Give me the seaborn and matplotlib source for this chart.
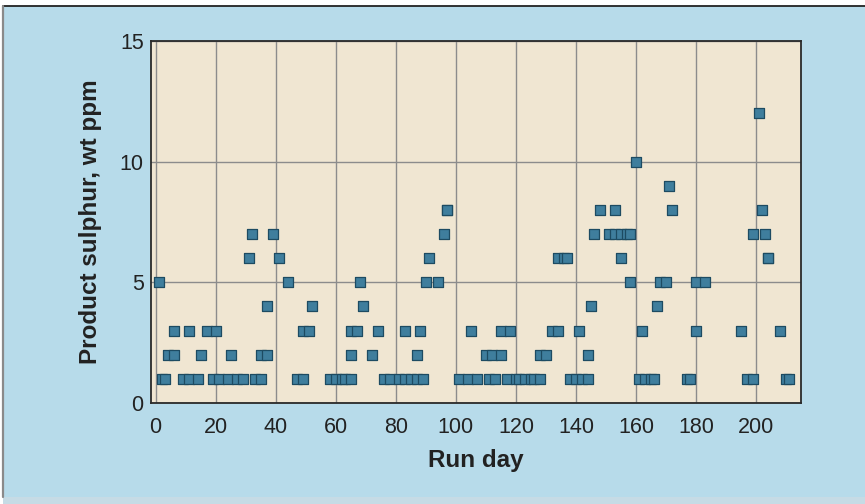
import matplotlib
matplotlib.use("Agg")
import matplotlib.pyplot as plt
import seaborn as sns
import pandas as pd
from matplotlib.patches import Rectangle
from matplotlib.lines import Line2D

# Daily product sulphur readings over the run
run_day = [1, 2, 3, 4, 6, 6, 9, 11, 11, 14, 15, 17, 19, 20, 21, 24, 25, 27, 29, 31,
           32, 33, 35, 35, 37, 37, 39, 41, 44, 47, 49, 49, 51, 52, 58, 60, 62, 63, 65, 65,
           65, 67, 68, 69, 72, 74, 76, 78, 81, 83, 83, 85, 87, 87, 88, 89, 90, 91, 94, 96,
           97, 97, 101, 104, 105, 107, 110, 111, 112, 113, 115, 115, 117, 118, 120, 121, 123, 125, 126, 128,
           128, 130, 132, 134, 134, 136, 137, 138, 140, 141, 142, 144, 144, 145, 146, 148, 151, 153, 153, 155,
           155, 157, 158, 158, 160, 161, 162, 163, 165, 166, 167, 168, 170, 171, 172, 177, 178, 180, 180, 183,
           195, 197, 199, 199, 201, 202, 203, 204, 204, 208, 210, 211]
sulphur_ppm = [5, 1, 1, 2, 2, 3, 1, 1, 3, 1, 2, 3, 1, 3, 1, 1, 2, 1, 1, 6,
               7, 1, 1, 2, 2, 4, 7, 6, 5, 1, 1, 3, 3, 4, 1, 1, 1, 1, 1, 2,
               3, 3, 5, 4, 2, 3, 1, 1, 1, 1, 3, 1, 1, 2, 3, 1, 5, 6, 5, 7,
               8, 8, 1, 1, 3, 1, 2, 1, 2, 1, 2, 3, 1, 3, 1, 1, 1, 1, 1, 1,
               2, 2, 3, 3, 6, 6, 6, 1, 1, 3, 1, 1, 2, 4, 7, 8, 7, 7, 8, 6,
               7, 7, 5, 7, 10, 1, 3, 1, 1, 1, 4, 5, 5, 9, 8, 1, 1, 3, 5, 5,
               3, 1, 1, 7, 12, 8, 7, 6, 6, 3, 1, 1]

x_ticks = [0, 20, 40, 60, 80, 100, 120, 140, 160, 180, 200]
y_ticks = [0, 5, 10, 15]

df = pd.DataFrame({"Run day": run_day, "Product sulphur, wt ppm": sulphur_ppm})

sns.set_theme(style="white")
plt.rcParams["font.family"] = ["Liberation Sans", "DejaVu Sans"]

W, H = 865, 504
fig = plt.figure(figsize=(W / 100, H / 100), dpi=100, facecolor="white")

# Light blue panel behind the chart, with its frame lines and footer strip
fig.patches.append(Rectangle((3 / W, 0), 1, (H - 6) / H, transform=fig.transFigure,
                             facecolor="#b7dbea", edgecolor="none", zorder=-10))
fig.patches.append(Rectangle((3 / W, 0), 1, 7 / H, transform=fig.transFigure,
                             facecolor="#c6dbe5", edgecolor="none", zorder=-9))
fig.lines.append(Line2D([3 / W, 1], [1 - 6 / H, 1 - 6 / H], transform=fig.transFigure,
                        color="#222222", lw=1.3))
fig.lines.append(Line2D([3 / W, 3 / W], [7 / H, 1 - 6 / H], transform=fig.transFigure,
                        color="#8a8a8a", lw=1.6))

ax = fig.add_axes([151.3 / W, (H - 403) / H, 650 / W, (403 - 40.75) / H])
ax.set_facecolor("#f0e6d2")

sns.scatterplot(data=df, x="Run day", y="Product sulphur, wt ppm", marker="s", s=60,
                color="#3f7e9d", edgecolor="#1d4b62", linewidth=0.9, ax=ax, zorder=3)

ax.set_xlim(-1.4, 215)
ax.set_ylim(0, 15)
ax.set_xticks(x_ticks)
ax.set_yticks(y_ticks)
ax.grid(True, color="#8c8c8c", lw=1.0, zorder=0)
ax.set_axisbelow(True)
for side in ax.spines.values():
    side.set_visible(True)
    side.set_color("#2a2a2a")
    side.set_linewidth(1.3)

ax.tick_params(axis="both", length=0, labelsize=15.5, colors="#222222")
ax.tick_params(axis="x", pad=10)
ax.tick_params(axis="y", pad=5.5)

ax.set_xlabel("Run day", fontsize=17.5, fontweight="bold", color="#222222", labelpad=8)
ax.set_ylabel("Product sulphur, wt ppm", fontsize=17.5, fontweight="bold", color="#222222", labelpad=13)

fig.savefig("out.png", dpi=100, facecolor=fig.get_facecolor())
